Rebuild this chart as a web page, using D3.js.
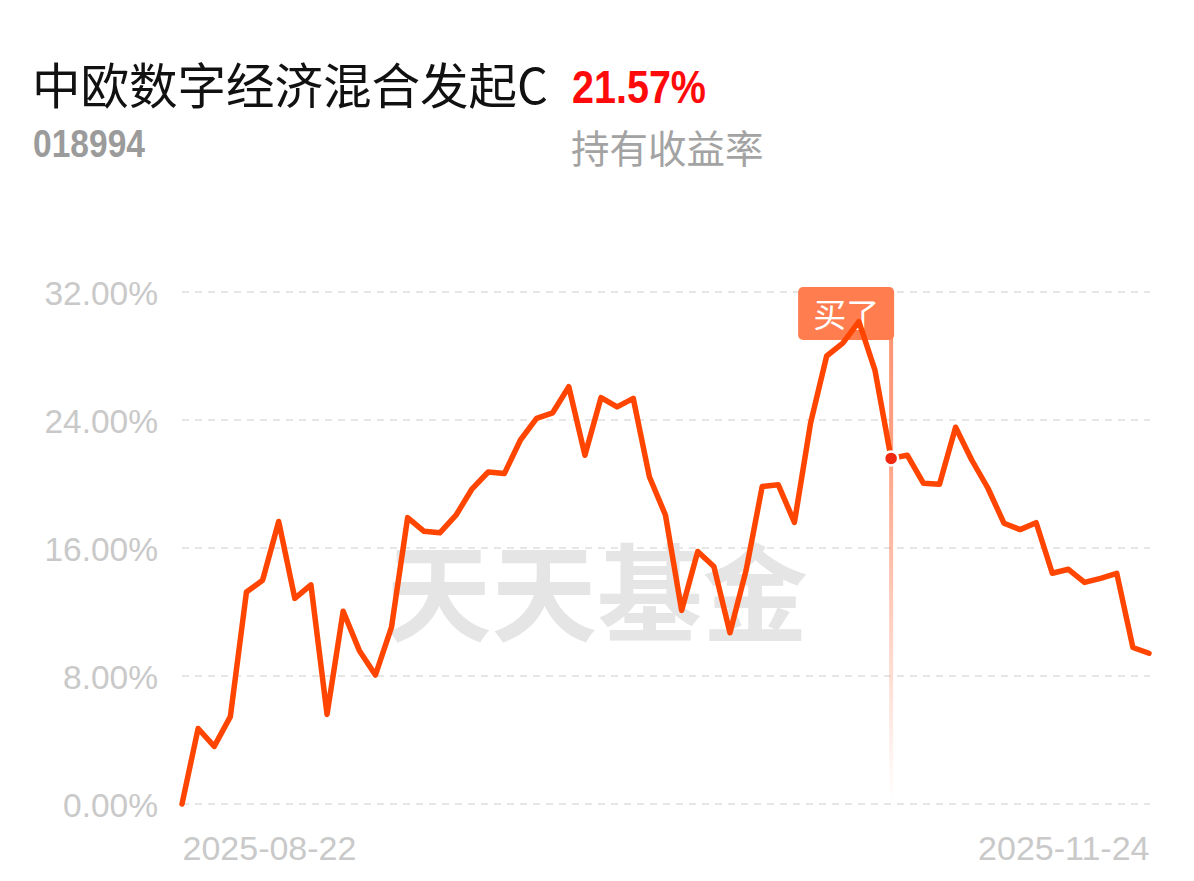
<!DOCTYPE html>
<html><head><meta charset="utf-8">
<script src="https://cdn.jsdelivr.net/npm/d3@7"></script>
<style>
html,body{margin:0;padding:0;background:#fff;}
svg{display:block;}
</style></head>
<body>
<svg id="chart" width="1194" height="881"></svg>
<script>
const fundName = "中欧数字经济混合发起C";
const fundCode = "018994";
const returnText = "21.57%";
const returnLabel = "持有收益率";
const watermark = "天天基金";
const buyLabel = "买了";

const dates = [
"2025-08-22","2025-08-25","2025-08-26","2025-08-27","2025-08-28","2025-08-29",
"2025-09-01","2025-09-02","2025-09-03","2025-09-04","2025-09-05",
"2025-09-08","2025-09-09","2025-09-10","2025-09-11","2025-09-12",
"2025-09-15","2025-09-16","2025-09-17","2025-09-18","2025-09-19",
"2025-09-22","2025-09-23","2025-09-24","2025-09-25","2025-09-26",
"2025-09-29","2025-09-30","2025-10-09","2025-10-10",
"2025-10-13","2025-10-14","2025-10-15","2025-10-16","2025-10-17",
"2025-10-20","2025-10-21","2025-10-22","2025-10-23","2025-10-24",
"2025-10-27","2025-10-28","2025-10-29","2025-10-30","2025-10-31",
"2025-11-03","2025-11-04","2025-11-05","2025-11-06","2025-11-07",
"2025-11-10","2025-11-11","2025-11-12","2025-11-13","2025-11-14",
"2025-11-17","2025-11-18","2025-11-19","2025-11-20","2025-11-21",
"2025-11-24"];

const values = [
0.00, 4.72, 3.60, 5.46, 13.25, 13.98, 17.66, 12.85, 13.70, 5.60,
12.05, 9.60, 8.06, 11.05, 17.90, 17.05, 16.95, 18.05, 19.70, 20.75,
20.65, 22.75, 24.10, 24.45, 26.08, 21.80, 25.40, 24.82, 25.35, 20.45,
18.05, 12.10, 15.78, 14.85, 10.70, 14.60, 19.85, 19.95, 17.60, 23.80,
28.00, 28.80, 30.15, 27.10, 21.60, 21.80, 20.05, 19.98, 23.55, 21.50,
19.75, 17.55, 17.15, 17.58, 14.42, 14.67, 13.85, 14.10, 14.42, 9.78,
9.42];

const yTicks = [0, 8, 16, 24, 32];
const yTickLabels = ["0.00%", "8.00%", "16.00%", "24.00%", "32.00%"];
const xTickDates = ["2025-08-22", "2025-11-24"];
const buyDate = "2025-10-31";

const svg = d3.select("#chart");
const x = d3.scalePoint().domain(dates).range([182, 1149]);
const y = d3.scaleLinear().domain([0, 32]).range([804, 292]);

// header
svg.append("text").attr("x", 32).attr("y", 104)
  .attr("font-family", "'Noto Sans CJK SC', sans-serif").attr("font-size", 48.5)
  .attr("fill", "#111").text(fundName);
svg.append("text").attr("x", 572).attr("y", 103)
  .attr("font-family", "'Liberation Sans', Arial, sans-serif").attr("font-weight", "bold")
  .attr("font-size", 46).attr("fill", "#ff0a0a")
  .attr("textLength", 134).attr("lengthAdjust", "spacingAndGlyphs").text(returnText);
svg.append("text").attr("x", 33).attr("y", 157)
  .attr("font-family", "'Liberation Sans', Arial, sans-serif").attr("font-weight", "bold")
  .attr("font-size", 38).attr("fill", "#9b9b9b")
  .attr("textLength", 112).attr("lengthAdjust", "spacingAndGlyphs").text(fundCode);
svg.append("text").attr("x", 571).attr("y", 163)
  .attr("font-family", "'Noto Sans CJK SC', sans-serif").attr("font-size", 38.5)
  .attr("fill", "#a3a3a3").text(returnLabel);

// watermark
svg.append("text").attr("x", 386).attr("y", 633)
  .attr("font-family", "'Noto Sans CJK SC', sans-serif").attr("font-weight", 700)
  .attr("font-size", 106).attr("fill", "#e5e5e5")
  .attr("textLength", 422).attr("lengthAdjust", "spacingAndGlyphs").text(watermark);

// grid
svg.append("g").selectAll("line").data(yTicks).join("line")
  .attr("x1", 182).attr("x2", 1150)
  .attr("y1", d => y(d)).attr("y2", d => y(d))
  .attr("stroke", "#e6e6e6").attr("stroke-width", 2).attr("stroke-dasharray", "7,6");

// y axis
const yAxis = d3.axisLeft(y).tickValues(yTicks).tickSize(0).tickPadding(24)
  .tickFormat((d, i) => yTickLabels[i]);
const gy = svg.append("g").attr("transform", "translate(182,0)").call(yAxis);
gy.select(".domain").remove();
gy.selectAll("text").attr("font-family", "'Liberation Sans', Arial, sans-serif")
  .attr("font-size", 33.5).attr("fill", "#c9c9c9").attr("dy", "0.36em");

// x axis
const xAxis = d3.axisBottom(x).tickValues(xTickDates).tickSize(0).tickPadding(0);
const gx = svg.append("g").attr("transform", "translate(0,828)").call(xAxis);
gx.select(".domain").remove();
gx.selectAll("text").attr("font-family", "'Liberation Sans', Arial, sans-serif")
  .attr("font-size", 34).attr("fill", "#c9c9c9").attr("dy", "0.93em")
  .attr("text-anchor", (d, i) => i === 0 ? "start" : "end");

// buy marker line gradient
const defs = svg.append("defs");
const grad = defs.append("linearGradient").attr("id", "buyGrad")
  .attr("x1", 0).attr("y1", 0).attr("x2", 0).attr("y2", 1);
grad.append("stop").attr("offset", "0%").attr("stop-color", "#ff7a50").attr("stop-opacity", 0.8);
grad.append("stop").attr("offset", "25%").attr("stop-color", "#ff7a50").attr("stop-opacity", 0.7);
grad.append("stop").attr("offset", "100%").attr("stop-color", "#ff7a50").attr("stop-opacity", 0);

const bi = dates.indexOf(buyDate);
const bx = x(buyDate), by = y(values[bi]);
svg.append("rect").attr("x", bx - 2).attr("y", 338).attr("width", 4).attr("height", 462)
  .attr("fill", "url(#buyGrad)");

// label box
svg.append("rect").attr("x", bx - 93).attr("y", 287).attr("width", 96).attr("height", 53)
  .attr("rx", 5).attr("fill", "#ff7d4f");
svg.append("text").attr("x", bx - 45).attr("y", 327).attr("text-anchor", "middle")
  .attr("font-family", "'Noto Sans CJK SC', sans-serif").attr("font-size", 33)
  .attr("fill", "#fff").text(buyLabel);

// line
const line = d3.line().x((d, i) => x(dates[i])).y(d => y(d));
svg.append("path").datum(values).attr("d", line)
  .attr("fill", "none").attr("stroke", "#ff4500").attr("stroke-width", 5.5)
  .attr("stroke-linejoin", "round").attr("stroke-linecap", "round");

// dot
svg.append("circle").attr("cx", bx).attr("cy", by).attr("r", 7)
  .attr("fill", "#f0280f").attr("stroke", "#fff").attr("stroke-width", 2.5);
</script>
</body></html>
